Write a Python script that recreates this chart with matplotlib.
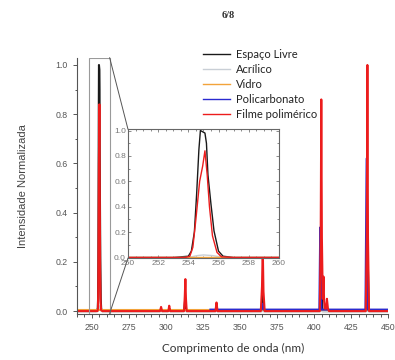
import matplotlib
matplotlib.use("Agg")
import matplotlib.pyplot as plt
from matplotlib.patches import Rectangle, ConnectionPatch
from matplotlib.ticker import MultipleLocator

# Espaço Livre
wl_livre = [240, 253.0, 254.0, 254.2, 254.4, 254.55, 254.7, 254.8, 255.1, 255.2, 255.3, 255.5, 255.7,
            256.0, 256.3, 257, 296.2, 296.7, 297.2, 301.5, 302.2, 302.8, 312.3, 313.0, 313.7, 333.6,
            334.1, 334.6, 364.5, 365.2, 366.0, 404.0, 404.8, 405.6, 435.0, 435.9, 436.8, 450]
int_livre = [0, 0, 0.01, 0.05, 0.2, 0.5, 0.85, 1.0, 0.98, 0.9, 0.65, 0.42, 0.21,
             0.05, 0.01, 0, 0, 0.008, 0, 0, 0.01, 0, 0, 0.05, 0, 0,
             0.015, 0, 0, 0.08, 0, 0, 0.12, 0, 0, 0.3, 0, 0]

# Acrílico
wl_acril = [240, 254.0, 254.6, 255.0, 255.6, 256.4, 450]
int_acril = [0, 0, 0.015, 0.02, 0.015, 0, 0]

# Vidro
wl_vidro = [240, 450]
int_vidro = [0.003, 0.003]

# Policarbonato
wl_poli = [330, 364.5, 365.2, 366.0, 403.5, 404.1, 404.8, 434.6, 435.4, 436.2, 450]
int_poli = [0.006, 0.006, 0.03, 0.006, 0.006, 0.34, 0.006, 0.006, 0.62, 0.006, 0.006]

# Filme polimérico
wl_filme = [240, 253.8, 254.1, 254.3, 254.5, 254.75, 254.95, 255.1, 255.25, 255.4, 255.6, 255.9,
            256.2, 257, 296.0, 296.7, 297.4, 301.6, 302.2, 302.9, 312.2, 312.7, 313.1, 313.5, 314.0,
            333.4, 334.1, 334.8, 364.0, 364.8, 365.3, 365.8, 366.6, 403.8, 404.4, 404.8, 405.2,
            405.8, 406.3, 406.7, 407.2, 408.0, 408.6, 409.3, 410.0, 434.8, 435.5, 435.9, 436.3,
            437.0, 450]
int_filme = [0, 0, 0.01, 0.08, 0.3, 0.6, 0.72, 0.84, 0.65, 0.4, 0.17, 0.04,
             0.005, 0, 0, 0.017, 0, 0, 0.022, 0, 0, 0.06, 0.13, 0.05, 0,
             0, 0.035, 0, 0, 0.1, 0.26, 0.08, 0, 0, 0.3, 0.86, 0.3,
             0.05, 0.14, 0.04, 0.01, 0.01, 0.05, 0.01, 0, 0, 0.3, 1.0, 0.3,
             0, 0]

series = [
    ("Espaço Livre", wl_livre, int_livre, "#1a1a1a"),
    ("Acrílico", wl_acril, int_acril, "#c9cfd6"),
    ("Vidro", wl_vidro, int_vidro, "#f2a33a"),
    ("Policarbonato", wl_poli, int_poli, "#2a2ad0"),
    ("Filme polimérico", wl_filme, int_filme, "#ec1c1c"),
]

label_font = "Lato"
tick_font = "Liberation Sans"
axis_grey = "#555555"

fig = plt.figure(figsize=(3.95, 3.6), dpi=100)
fig.patch.set_facecolor("white")

# main axes
ax = fig.add_axes([0.195, 0.129, 0.788, 0.711])
for name, x, y, c in series:
    ax.plot(x, y, color=c, lw=1.5, label=name)
ax.set_xlim(240, 450)
ax.set_ylim(-0.01, 1.03)
ax.spines["top"].set_visible(False)
ax.spines["right"].set_visible(False)
for s in ("left", "bottom"):
    ax.spines[s].set_color(axis_grey)
    ax.spines[s].set_linewidth(0.8)
ax.xaxis.set_major_locator(MultipleLocator(25))
ax.xaxis.set_minor_locator(MultipleLocator(5))
ax.yaxis.set_major_locator(MultipleLocator(0.2))
ax.yaxis.set_minor_locator(MultipleLocator(0.1))
ax.tick_params(which="both", colors=axis_grey, labelsize=6.3, width=0.7)
ax.tick_params(which="major", length=3)
ax.tick_params(which="minor", length=1.8)
for lbl in ax.get_xticklabels() + ax.get_yticklabels():
    lbl.set_fontfamily(tick_font)
ax.set_xlabel("Comprimento de onda (nm)", fontsize=8.5, family=label_font, color="#333333", labelpad=8)
ax.set_ylabel("Intensidade Normalizada", fontsize=8, family=tick_font, color="#444444", labelpad=20)

# zoom rectangle
ax.add_patch(Rectangle((248, -0.01), 14, 1.04, fill=False, ec="#9a9a9a", lw=0.8, zorder=5))

leg = ax.legend(loc="upper left", bbox_to_anchor=(0.39, 1.05), frameon=False,
                prop={"family": label_font, "size": 8}, handlelength=2.4,
                handletextpad=0.6, labelspacing=0.36, borderaxespad=0)
for line in leg.get_lines():
    line.set_linewidth(1.0)
for t in leg.get_texts():
    t.set_color("#222222")

# inset
axin = fig.add_axes([0.324, 0.283, 0.382, 0.358])
for name, x, y, c in series:
    axin.plot(x, y, color=c, lw=1.0)
axin.set_xlim(250, 260)
axin.set_ylim(-0.005, 1.01)
axin.xaxis.set_major_locator(MultipleLocator(2))
axin.xaxis.set_minor_locator(MultipleLocator(0.5))
axin.yaxis.set_major_locator(MultipleLocator(0.2))
axin.yaxis.set_minor_locator(MultipleLocator(0.1))
axin.tick_params(which="both", direction="in", top=True, right=True, colors="#777777",
                 labelsize=6, width=0.6, pad=1.5)
axin.tick_params(which="major", length=2.5)
axin.tick_params(which="minor", length=1.3)
for s in axin.spines.values():
    s.set_color("#666666")
    s.set_linewidth(0.8)
for lbl in axin.get_xticklabels() + axin.get_yticklabels():
    lbl.set_fontfamily(tick_font)

# connector lines from rectangle to inset
for ya, yb in ((1.03, 1.0), (-0.01, 0.0)):
    con = ConnectionPatch(xyA=(262, ya), coordsA=ax.transData,
                          xyB=(0, yb), coordsB=axin.transAxes,
                          color="#555555", lw=0.7)
    fig.add_artist(con)

fig.text(0.577, 0.958, "6/8", ha="center", va="center", fontsize=7.5,
         family="Liberation Serif", weight="bold", color="#333333")

fig.savefig("out.png", dpi=100, facecolor="white")
